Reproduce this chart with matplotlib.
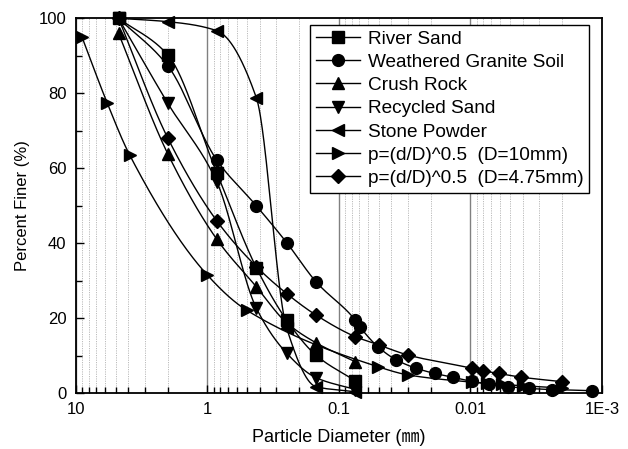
import numpy as np
import matplotlib
matplotlib.use("Agg")
import matplotlib.pyplot as plt
from matplotlib.ticker import FixedLocator, NullFormatter

plt.rcParams['font.family'] = ['Liberation Sans', 'Noto Sans CJK KR', 'DejaVu Sans']

# ---- data (particle diameter in mm, percent finer) ----
sieve = [4.75, 2.0, 0.85, 0.425, 0.25, 0.15, 0.075]

river_d = sieve
river_p = [100, 90.2, 58.8, 33.5, 19.5, 10.2, 3.3]

granite_d = [4.75, 2.0, 0.85, 0.425, 0.25, 0.15, 0.075, 0.0695, 0.0505, 0.0366,
             0.026, 0.0187, 0.0137, 0.0098, 0.0072, 0.0052, 0.0036, 0.0024, 0.0012]
granite_p = [100, 87.3, 62.2, 50.0, 40.2, 29.8, 19.5, 17.8, 12.4, 8.9,
             6.7, 5.3, 4.3, 3.2, 2.4, 1.8, 1.3, 1.0, 0.7]

crush_d = sieve
crush_p = [96, 63.8, 41.1, 28.4, 18.8, 13.5, 8.4]

recycled_d = sieve
recycled_p = [100, 77.3, 56.4, 22.7, 10.7, 4.2, 1.0]

stone_d = sieve
stone_p = [100, 99.1, 96.7, 78.8, 17.4, 1.8, 0.4]

p10_d = [9.0, 5.8, 3.9, 1.0, 0.505, 0.0505, 0.0298, 0.0098, 0.0075, 0.0058, 0.0040, 0.0020]
p10_p = [95.0, 77.5, 63.5, 31.5, 22.2, 7.1, 4.9, 3.0, 2.7, 2.4, 2.0, 1.4]

p475_d = [4.75, 2.0, 0.85, 0.425, 0.25, 0.15, 0.075, 0.0497, 0.0298, 0.0098,
          0.0080, 0.0061, 0.0041, 0.0020]
p475_p = [100, 68.0, 46.0, 33.8, 26.6, 20.9, 15.1, 12.9, 10.2, 6.7,
          6.0, 5.3, 4.3, 3.1]

series = [
    ("River Sand", river_d, river_p, 's'),
    ("Weathered Granite Soil", granite_d, granite_p, 'o'),
    ("Crush Rock", crush_d, crush_p, '^'),
    ("Recycled Sand", recycled_d, recycled_p, 'v'),
    ("Stone Powder", stone_d, stone_p, '<'),
    ("p=(d/D)^0.5  (D=10mm)", p10_d, p10_p, '>'),
    ("p=(d/D)^0.5  (D=4.75mm)", p475_d, p475_p, 'D'),
]

x_ticks = [10, 1, 0.1, 0.01, 0.001]
x_ticklabels = ["10", "1", "0.1", "0.01", "1E-3"]
y_ticks = [0, 20, 40, 60, 80, 100]


def smooth(d, p, n=400):
    """Monotone cubic (Fritsch-Carlson) curve through the points in log-d space."""
    x = np.log10(np.asarray(d, float))
    y = np.asarray(p, float)
    order = np.argsort(x)
    x, y = x[order], y[order]
    h = np.diff(x)
    delta = np.diff(y) / h
    m = np.zeros_like(y)
    m[0], m[-1] = delta[0], delta[-1]
    for k in range(1, len(x) - 1):
        if delta[k - 1] * delta[k] <= 0:
            m[k] = 0
        else:
            w1 = 2 * h[k] + h[k - 1]
            w2 = h[k] + 2 * h[k - 1]
            m[k] = (w1 + w2) / (w1 / delta[k - 1] + w2 / delta[k])
    xn = np.linspace(x[0], x[-1], n)
    idx = np.clip(np.searchsorted(x, xn) - 1, 0, len(x) - 2)
    t = (xn - x[idx]) / h[idx]
    h00 = 2 * t**3 - 3 * t**2 + 1
    h10 = t**3 - 2 * t**2 + t
    h01 = -2 * t**3 + 3 * t**2
    h11 = t**3 - t**2
    yn = h00 * y[idx] + h10 * h[idx] * m[idx] + h01 * y[idx + 1] + h11 * h[idx] * m[idx + 1]
    return 10 ** xn, yn


fig = plt.figure(figsize=(6.28, 4.49), dpi=100)
ax = fig.add_axes([0.121, 0.124, 0.8376, 0.8352])

ax.set_xscale('log')
ax.set_xlim(10, 0.001)
ax.set_ylim(0, 100)

# grid: dotted minor, solid major verticals
ax.xaxis.set_minor_locator(FixedLocator(
    [k * 10.0**e for e in range(-3, 1) for k in range(2, 10)]))
ax.grid(True, which='minor', axis='x', color='#bbbbbb', linestyle=(0, (1.2, 1.2)), linewidth=0.7)
ax.grid(True, which='major', axis='x', color='#808080', linestyle='-', linewidth=1.0)
ax.set_axisbelow(True)

for label, d, p, mk in series:
    xs, ys = smooth(d, p)
    ax.plot(xs, ys, color='black', linewidth=1.0, zorder=3)
    ms = 7.5 if mk == 'D' else 8.5
    ax.plot(d, p, linestyle='none', marker=mk, color='black',
            markersize=ms, zorder=4, clip_on=False)
    ax.plot([], [], color='black', linewidth=1.0, marker=mk,
            markersize=ms, label=label)

ax.set_xticks(x_ticks)
ax.set_xticklabels(x_ticklabels)
ax.xaxis.set_minor_formatter(NullFormatter())
ax.set_yticks(y_ticks)
ax.yaxis.set_minor_locator(FixedLocator([10, 30, 50, 70, 90]))

ax.tick_params(axis='both', which='major', direction='in', length=6, width=1.0,
               labelsize=12, top=False, right=False)
ax.tick_params(axis='y', which='major', pad=7)
ax.tick_params(axis='x', which='major', pad=6)
ax.tick_params(axis='both', which='minor', direction='in', length=4, width=1.0,
               top=False, right=False)

for s in ax.spines.values():
    s.set_linewidth(1.3)
    s.set_color('black')

ax.set_xlabel("Particle Diameter (㎜)", fontsize=13, labelpad=9)
ax.set_ylabel("Percent Finer (%)", fontsize=12, labelpad=6)

leg = ax.legend(loc='upper right', bbox_to_anchor=(0.975, 0.983), borderaxespad=0,
                fontsize=13.7, frameon=True, fancybox=False, edgecolor='black',
                handlelength=2.3, handletextpad=0.4, labelspacing=0.31,
                borderpad=0.3, framealpha=1)
leg.get_frame().set_linewidth(1.0)
leg.set_zorder(10)

fig.savefig("out.png", dpi=100)
